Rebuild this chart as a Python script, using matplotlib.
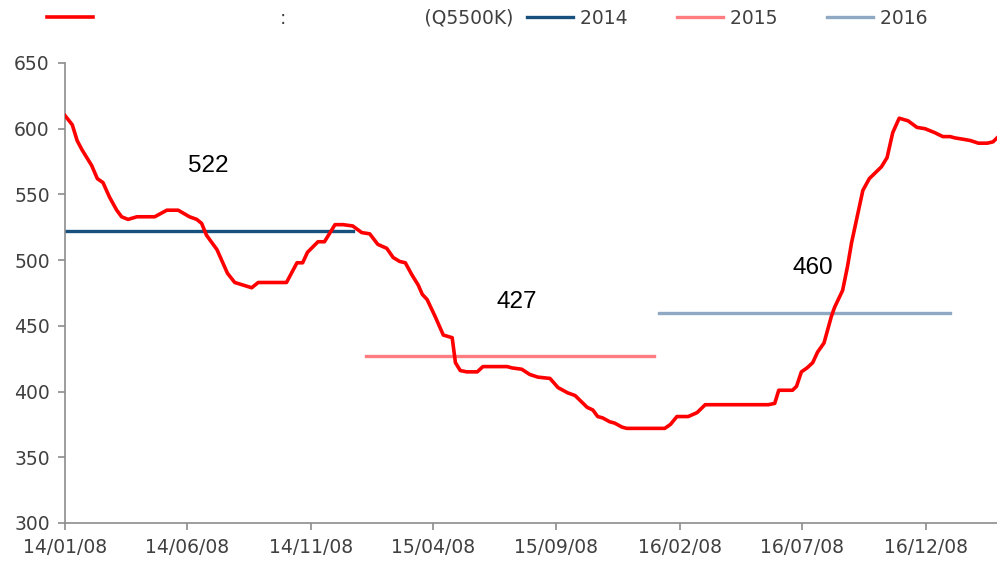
import matplotlib
matplotlib.use("Agg")
import matplotlib.pyplot as plt
import matplotlib.dates as mdates
import pandas as pd

# Price series (weekly-ish readings)
dates = [
    "2014-01-08", "2014-01-17", "2014-01-23", "2014-01-29", "2014-02-10", "2014-02-17",
    "2014-02-24", "2014-03-04", "2014-03-13", "2014-03-19", "2014-03-27", "2014-04-07",
    "2014-04-29", "2014-05-14", "2014-05-28", "2014-06-11", "2014-06-20", "2014-06-26",
    "2014-07-02", "2014-07-15", "2014-07-28", "2014-08-06", "2014-08-27", "2014-09-04",
    "2014-10-09", "2014-10-22", "2014-10-29", "2014-11-04", "2014-11-17", "2014-11-25",
    "2014-12-08", "2014-12-18", "2014-12-30",
    "2015-01-10", "2015-01-20", "2015-01-30", "2015-02-10", "2015-02-18", "2015-02-26",
    "2015-03-05", "2015-03-13", "2015-03-21", "2015-03-26", "2015-04-01", "2015-04-11",
    "2015-04-21", "2015-05-02", "2015-05-06", "2015-05-12", "2015-05-20", "2015-06-02",
    "2015-06-09", "2015-07-09", "2015-07-15", "2015-07-27", "2015-08-06", "2015-08-16",
    "2015-08-31", "2015-09-10", "2015-09-22", "2015-10-01", "2015-10-16", "2015-10-23",
    "2015-10-29", "2015-11-04", "2015-11-13", "2015-11-19", "2015-11-28", "2015-12-04",
    "2016-01-20", "2016-01-27", "2016-02-04", "2016-02-18", "2016-02-29", "2016-03-10",
    "2016-05-27", "2016-06-04", "2016-06-09", "2016-06-26", "2016-07-01", "2016-07-07",
    "2016-07-14", "2016-07-21", "2016-07-27", "2016-08-04", "2016-08-13", "2016-08-17",
    "2016-08-27", "2016-09-02", "2016-09-07", "2016-09-21", "2016-09-29", "2016-10-14",
    "2016-10-21", "2016-10-28", "2016-11-05", "2016-11-16", "2016-11-27", "2016-12-07",
    "2016-12-19", "2016-12-29", "2017-01-07", "2017-01-13", "2017-01-23", "2017-02-01",
    "2017-02-11", "2017-02-22", "2017-03-01", "2017-03-06",
]
price = [
    610, 603, 591, 584, 572, 562,
    559, 548, 538, 533, 531, 533,
    533, 538, 538, 533, 531, 528,
    519, 508, 490, 483, 479, 483,
    483, 498, 498, 506, 514, 514,
    527, 527, 526,
    521, 520, 512, 509, 502, 499,
    498, 489, 481, 474, 470, 457,
    443, 441, 422, 416, 415, 415,
    419, 419, 418, 417, 413, 411,
    410, 403, 399, 397, 388, 386,
    381, 380, 377, 376, 373, 372,
    372, 375, 381, 381, 384, 390,
    390, 391, 401, 401, 404, 415,
    418, 422, 430, 437, 457, 464,
    477, 495, 513, 553, 562, 571,
    578, 597, 608, 606, 601, 600,
    597, 594, 594, 593, 592, 591,
    589, 589, 590, 593,
]

# Yearly averages
years = ["2014", "2015", "2016"]
avg = [522, 427, 460]
avg_start = ["2014-01-08", "2015-01-15", "2016-01-13"]
avg_end = ["2014-12-30", "2016-01-07", "2017-01-07"]
avg_colors = ["#17507D", "#FF7C80", "#8EA9C1"]
label_dates = ["2014-07-04", "2015-07-21", "2016-07-21"]
label_vals = [572, 468, 494]

xticks = ["2014-01-08", "2014-06-08", "2014-11-08", "2015-04-08",
          "2015-09-08", "2016-02-08", "2016-07-08", "2016-12-08"]

series_label = " " * 30 + ":" + " " * 23 + "(Q5500K)"

plt.rcParams["font.family"] = ["DejaVu Sans"]
fig = plt.figure(figsize=(9.97, 5.70), dpi=100)
ax = fig.add_axes([65 / 997, 47 / 570, 932 / 997, 460 / 570])

x = pd.to_datetime(dates)
ax.plot(x, price, color="#FF0000", lw=2.6, label=series_label, zorder=3)
for i in range(len(years)):
    ax.plot(pd.to_datetime([avg_start[i], avg_end[i]]), [avg[i], avg[i]],
            color=avg_colors[i], lw=2.4, label=years[i] + " " * 6, zorder=2)
    ax.text(pd.Timestamp(label_dates[i]), label_vals[i], str(avg[i]),
            family="Liberation Sans", fontsize=17.5, color="black",
            ha="center", va="center")

ax.set_ylim(300, 650)
ax.set_yticks(range(300, 651, 50))
ax.set_xlim(pd.Timestamp("2014-01-08"), pd.Timestamp("2017-03-06"))
ax.set_xticks(pd.to_datetime(xticks))
ax.xaxis.set_major_formatter(mdates.DateFormatter("%y/%m/%d"))

for s in ["top", "right"]:
    ax.spines[s].set_visible(False)
for s in ["left", "bottom"]:
    ax.spines[s].set_color("#8C8C8C")
    ax.spines[s].set_linewidth(1.2)
ax.tick_params(axis="both", colors="#8C8C8C", labelcolor="#404040",
               labelsize=13.5, length=5, width=1.2)
ax.tick_params(axis="y", pad=6)
ax.tick_params(axis="x", pad=6)

fig.legend(loc="center left", bbox_to_anchor=(30 / 997, 1 - 18 / 570), ncol=4,
           frameon=False, fontsize=13.5, handlelength=2.45, handletextpad=0.4,
           columnspacing=0.7, labelcolor="#404040")

fig.savefig("out.png", dpi=100)
